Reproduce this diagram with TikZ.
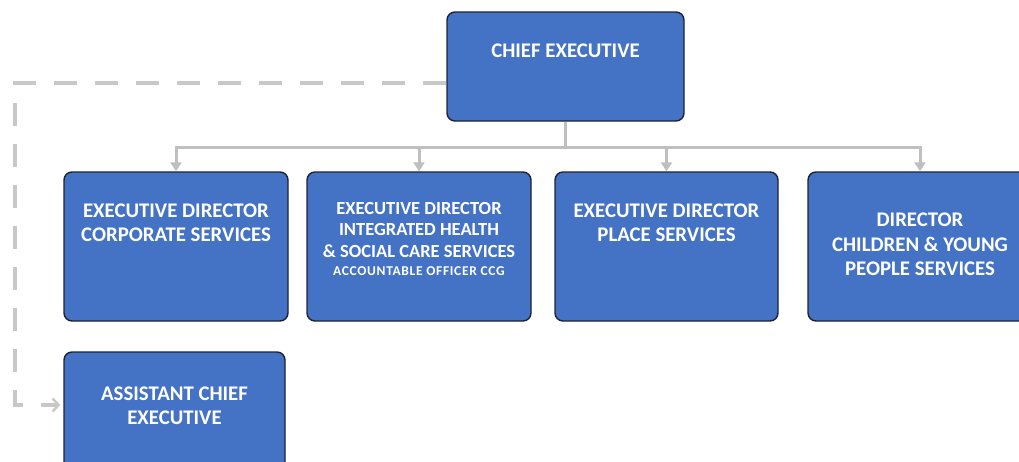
\documentclass[tikz,border=0pt]{standalone}
\usepackage{fontspec}
\setmainfont{Carlito}
\definecolor{box_fill_color}{HTML}{4472C4}
\definecolor{box_line_color}{HTML}{1C2333}
\definecolor{link_color}{HTML}{BFBFBF}
\definecolor{dash_color}{HTML}{C8C8C8}
\usetikzlibrary{arrows.meta}

\begin{document}
\begin{tikzpicture}[x=1pt, y=-1pt,
        orgbox/.style={draw=box_line_color, line width=1.4pt, fill=box_fill_color, rounded corners=8pt, inner sep=0pt},
        boxtext/.style={text=white, font=\bfseries\fontsize{20.8}{24.5}\selectfont, align=center, inner sep=0pt},
        link/.style={draw=link_color, line width=3pt},
        dashlink/.style={draw=dash_color, line width=4.5pt, dash pattern=on 23pt off 18pt}]
        \useasboundingbox (0,0) rectangle (1019,461);
        \clip (0,0) rectangle (1019,461);
        % boxes
        \node[orgbox, minimum width=237pt, minimum height=109pt] (chief) at (565.5,66.5) {};
        \node[orgbox, minimum width=224pt, minimum height=149pt] (corp) at (176,246.5) {};
        \node[orgbox, minimum width=224pt, minimum height=149pt] (health) at (419,246.5) {};
        \node[orgbox, minimum width=223pt, minimum height=149pt] (place) at (666.5,246.5) {};
        \node[orgbox, minimum width=224pt, minimum height=149pt] (cyp) at (920,246.5) {};
        \node[orgbox, minimum width=221pt, minimum height=149pt] (asst) at (174.5,426.5) {};
        % texts
        \node[boxtext, yshift=-39pt] (chief_tx) at (chief.north) {CHIEF EXECUTIVE};
        \node[boxtext, yshift=-51.5pt] (corp_tx) at (corp.north) {EXECUTIVE DIRECTOR\\CORPORATE SERVICES};
        \node[boxtext, yshift=-67.5pt, font=\bfseries\fontsize{18.5}{21.5}\selectfont] (health_tx) at (health.north)
            {EXECUTIVE DIRECTOR\\INTEGRATED HEALTH\\\& SOCIAL CARE SERVICES\\[-3pt]{\fontsize{13.5}{16}\addfontfeatures{LetterSpace=5}\selectfont ACCOUNTABLE OFFICER CCG}};
        \node[boxtext, yshift=-51.5pt] (place_tx) at (place.north) {EXECUTIVE DIRECTOR\\PLACE SERVICES};
        \node[boxtext, yshift=-73pt] (cyp_tx) at (cyp.north) {DIRECTOR\\CHILDREN \& YOUNG\\PEOPLE SERVICES};
        \node[boxtext, yshift=-54.5pt] (asst_tx) at (asst.north) {ASSISTANT CHIEF\\EXECUTIVE};
        % connectors
        \coordinate (bus) at (565.5,147);
        \draw[link] (chief) -- (bus);
        \foreach \b in {corp, health, place, cyp}
            \draw[link, -{Triangle[length=9pt, width=11pt]}] (bus) -| (\b);
        \coordinate (bend) at (15,405);
        \draw[dashlink, -{Straight Barb[length=6pt, width=13pt, line width=2.5pt]}]
            ([yshift=-16.5pt]chief.west) -| (bend) -- ([xshift=-3pt]bend -| asst.west);
\end{tikzpicture}
\end{document}
